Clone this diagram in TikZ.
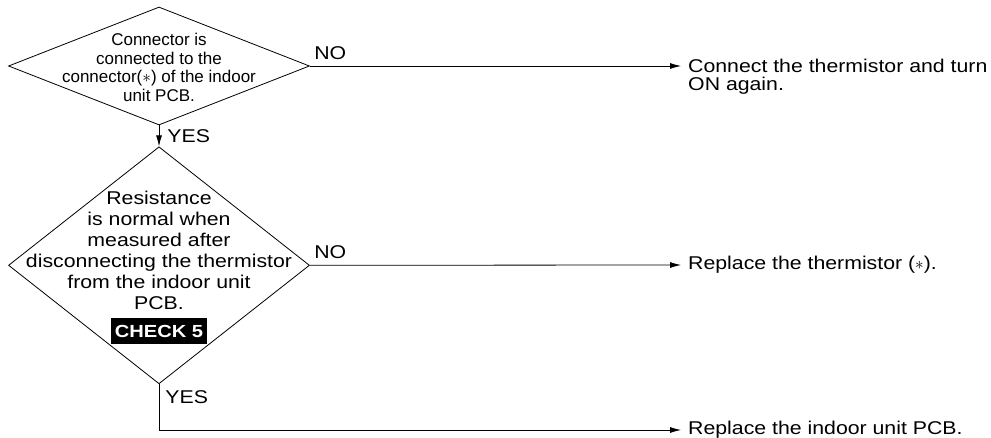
\documentclass[tikz,border=0pt]{standalone}
\usepackage{fontspec}
\setmainfont{Liberation Sans}
\newfontfamily\wideface[FakeStretch=1.15]{Liberation Sans}
\usetikzlibrary{shapes.geometric,arrows.meta,positioning}

\begin{document}
\begin{tikzpicture}[
    x=1pt, y=-1pt,
    decision/.style={diamond, draw, line width=0.8pt, inner sep=0pt, minimum width=301pt},
    question/.style={align=center, inner sep=0pt},
    action/.style={align=left, inner xsep=7pt, inner ysep=0pt, font=\wideface\fontsize{18.5}{18.5}\selectfont},
    answer/.style={font=\wideface\fontsize{18.5}{20}\selectfont, inner sep=0pt},
    checkbox/.style={fill=black, text=white, inner xsep=3.5pt, inner ysep=6.5pt, text height=13pt, text depth=0pt, font=\wideface\bfseries\fontsize{17.5}{20}\selectfont},
    arrow/.style={-{Latex[length=11pt,width=6pt]}, line width=0.8pt}
]
\useasboundingbox (0,0) rectangle (991,438);

% --- Decisions ---

% Connector check
\node[decision, minimum height=118pt] (conn) at (159,66) {};
\node[question, font=\fontsize{17}{18.6}\selectfont] (conntext) at ([yshift=-1.5pt]conn.center)
    {Connector is\\connected to the\\connector($\ast$) of the indoor\\unit PCB.};

% Resistance check
\node[decision, minimum height=237pt, below=21pt of conn] (resist) {};
\node[question, font=\wideface\fontsize{18.5}{21}\selectfont] (resisttext) at ([yshift=14.5pt]resist.center)
    {Resistance\\is normal when\\measured after\\disconnecting the thermistor\\from the indoor unit\\PCB.};
\node[checkbox] (check) at ([yshift=-65.5pt]resist.center) {CHECK 5};

% --- Actions ---
\node[action, anchor=north west] (connect) at (681,58.5) {Connect the thermistor and turn\\ON again.};
\node[action, anchor=west] (thermistor) at (681,265) {Replace the thermistor ($\ast$).};
\node[action, anchor=west] (pcb) at (681,430) {Replace the indoor unit PCB.};

% --- Arrows ---
\draw[arrow] (conn.east) -- (conn.east -| connect.west)
    node[answer, pos=0, anchor=south west, xshift=4pt, yshift=6pt] {NO};
\draw[arrow] (conn.south) -- (resist.north)
    node[answer, midway, anchor=west, xshift=8pt] {YES};
\draw[arrow] (resist.east) -- (thermistor.west)
    node[answer, pos=0, anchor=south west, xshift=4pt, yshift=6pt] {NO};
\draw[arrow] (resist.south) |- (pcb.west)
    node[answer, pos=0.14, anchor=west, xshift=6pt] {YES};

\end{tikzpicture}
\end{document}
